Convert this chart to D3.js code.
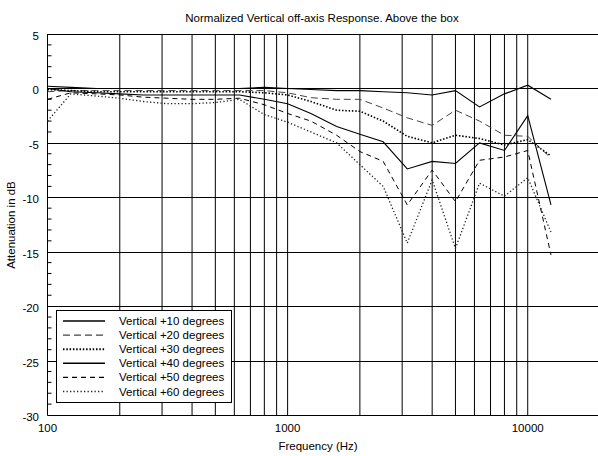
<!DOCTYPE html>
<html><head><meta charset="utf-8">
<script src="https://cdn.jsdelivr.net/npm/d3@7"></script>
<style>body{margin:0;background:#fff}svg{display:block;font-family:"Liberation Sans",Arial,sans-serif}</style>
</head><body><svg id="c" width="598" height="456"></svg>
<script>
const freqs = [100,125,160,200,250,315,400,500,630,800,1000,1250,1600,2000,2500,3150,4000,5000,6300,8000,10000,12500];
const v10 = [0.2,0.1,0.0,0.0,0.0,0.0,0.0,0.0,0.0,0.1,0.0,-0.1,-0.2,-0.2,-0.3,-0.4,-0.6,-0.2,-1.7,-0.5,0.3,-1.0];
const v20 = [-0.3,-0.2,-0.2,-0.2,-0.2,-0.2,-0.2,-0.2,-0.2,-0.2,-0.4,-0.85,-1.0,-1.0,-1.8,-2.7,-3.4,-2.0,-3.0,-4.3,-4.4,-6.4];
const v30 = [-0.1,-0.2,-0.3,-0.3,-0.3,-0.3,-0.3,-0.3,-0.3,-0.4,-0.6,-1.2,-2.0,-2.1,-3.0,-4.4,-5.0,-4.3,-4.6,-5.2,-4.7,-6.2];
const v40 = [0.0,-0.3,-0.4,-0.5,-0.6,-0.6,-0.6,-0.6,-0.6,-1.0,-1.4,-2.3,-3.5,-4.2,-4.9,-7.4,-6.7,-6.9,-5.0,-5.7,-2.5,-10.7];
const v50 = [-1.0,-0.4,-0.5,-0.6,-0.8,-0.9,-1.0,-1.0,-0.9,-1.5,-2.3,-3.0,-4.3,-5.8,-6.7,-10.7,-7.5,-10.4,-6.6,-6.3,-5.7,-15.3];
const v60 = [-3.0,-0.5,-0.7,-0.9,-1.2,-1.4,-1.4,-1.3,-1.0,-2.4,-3.1,-4.0,-5.0,-7.0,-9.0,-14.2,-8.4,-14.7,-8.7,-9.9,-8.2,-13.2];
const seriesNames = ["Vertical +10 degrees","Vertical +20 degrees","Vertical +30 degrees","Vertical +40 degrees","Vertical +50 degrees","Vertical +60 degrees"];
const seriesValues = [v10,v20,v30,v40,v50,v60];
const yTicks = [5,0,-5,-10,-15,-20,-25,-30];
const xLabelTicks = [100,1000,10000];
const title = "Normalized Vertical off-axis Response. Above the box";
const xTitle = "Frequency (Hz)";
const yTitle = "Attenuation in dB";

const styles = [
  {dash:null, w:1.1, c:"#000"},
  {dash:"7,4", w:1, c:"#444"},
  {dash:"1.5,1.8", w:1.6, c:"#000"},
  {dash:null, w:1.1, c:"#000"},
  {dash:"5,4", w:1, c:"#000"},
  {dash:"1.3,2.2", w:1.3, c:"#222"}
];

const svg = d3.select("#c");
const L=47.5, T=34, B=415, R=600;
const x = d3.scaleLog().domain([100,20000]).range([L,R]);
const y = d3.scaleLinear().domain([-30,5]).range([B,T]);

// vertical grid
const vgrid = [];
[100,1000].forEach(d=>{for(let k=2;k<=10;k++) vgrid.push(d*k);});
svg.append("g").selectAll("line").data(vgrid).join("line")
  .attr("x1",d=>x(d)).attr("x2",d=>x(d)).attr("y1",T).attr("y2",B)
  .attr("stroke","#000").attr("stroke-width",1);
// horizontal grid
svg.append("g").selectAll("line").data(yTicks).join("line")
  .attr("x1",L).attr("x2",598).attr("y1",d=>Math.round(y(d))+0.5).attr("y2",d=>Math.round(y(d))+0.5)
  .attr("stroke","#000").attr("stroke-width",1);
// left axis
svg.append("line").attr("x1",L).attr("x2",L).attr("y1",T).attr("y2",B+0.5).attr("stroke","#000");
// minor ticks
const minor = d3.range(-29,5,1).filter(d=>d%5!==0);
svg.append("g").selectAll("line").data(minor).join("line")
  .attr("x1",L).attr("x2",L+4).attr("y1",d=>y(d)).attr("y2",d=>y(d)).attr("stroke","#000");
// y labels
svg.append("g").selectAll("text").data(yTicks).join("text")
  .attr("x",39).attr("y",d=>y(d)+6).attr("text-anchor","end").attr("font-size",11.5).text(d=>d);
// x labels
svg.append("g").selectAll("text").data(xLabelTicks).join("text")
  .attr("x",d=>x(d)).attr("y",432).attr("text-anchor","middle").attr("font-size",11.5).text(d=>d);
svg.append("text").attr("x",318).attr("y",450).attr("text-anchor","middle").attr("font-size",11.5).text(xTitle);
svg.append("text").attr("transform","translate(15,225) rotate(-90)").attr("text-anchor","middle").attr("font-size",11.5).text(yTitle);
svg.append("text").attr("x",322).attr("y",22).attr("text-anchor","middle").attr("font-size",11.5).text(title);

// series
const line = d3.line().x((d,i)=>x(freqs[i])).y(d=>y(d));
seriesValues.forEach((vals,i)=>{
  const s=styles[i];
  svg.append("path").attr("d",line(vals)).attr("fill","none")
    .attr("stroke",s.c).attr("stroke-width",s.w).attr("stroke-dasharray",s.dash);
});

// legend
const lg = svg.append("g");
lg.append("rect").attr("x",56.5).attr("y",310.5).attr("width",175).attr("height",92).attr("fill","#fff").attr("stroke","#000");
seriesNames.forEach((n,i)=>{
  const yy = 321+14.1*i;
  const s=styles[i];
  lg.append("line").attr("x1",63).attr("x2",105).attr("y1",yy).attr("y2",yy)
    .attr("stroke",s.c).attr("stroke-width",s.w+0.4).attr("stroke-dasharray",s.dash);
  lg.append("text").attr("x",119).attr("y",yy+4).attr("font-size",11.5).text(n);
});
</script></body></html>
